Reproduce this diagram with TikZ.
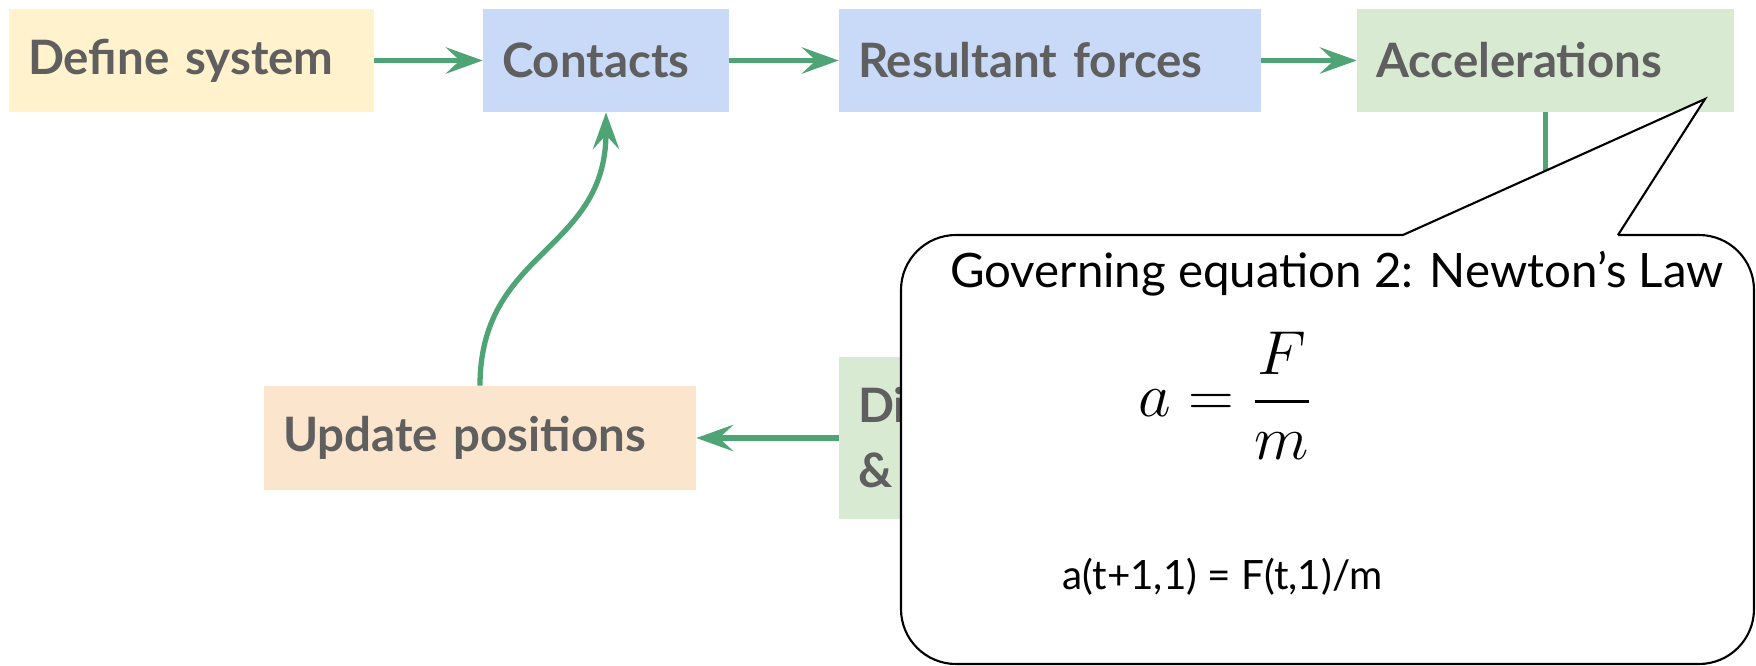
\documentclass[tikz,border=0pt]{standalone}
\usepackage{amsmath}
\usepackage{graphicx}
\usepackage{fontspec}
\setmainfont{Lato}
\usetikzlibrary{arrows.meta}
\definecolor{flowgreen}{RGB}{78,164,116}
\definecolor{labelgrey}{RGB}{95,95,95}
\definecolor{sysyellow}{RGB}{255,242,204}
\definecolor{stepblue}{RGB}{201,218,248}
\definecolor{stepgreen}{RGB}{217,234,211}
\definecolor{steporange}{RGB}{252,229,205}

\begin{document}
\begin{tikzpicture}[x=0.02cm, y=-0.02cm,
 box/.style={inner xsep=0.38cm, inner ysep=0pt, minimum height=2.06cm, text width=#1, align=left, font=\fontsize{27}{37}\selectfont\bfseries, text=labelgrey},
 flow/.style={draw=flowgreen, line width=3pt, -{Stealth[length=21pt, width=15pt, inset=8pt]}},
 callout/.style={draw=black, line width=1.2pt, fill=white},
 note/.style={inner sep=0pt, text=black}]
 \useasboundingbox (0,0) rectangle (1756,666);
 \node[box=6.54cm, fill=sysyellow] (def) at (191.5,60.5){Define system};
 \node[box=4.16cm, fill=stepblue] (cont) at (606,60.5){Contacts};
 \node[box=7.68cm, fill=stepblue] (res) at (1050,60.5){Resultant forces};
 \node[box=6.78cm, fill=stepgreen] (acc) at (1545.5,60.5){Accelerations};
 \node[box=7.64cm, fill=stepgreen, minimum height=3.24cm] (disp) at (1049,438){Di\\\&};
 \node[box=7.88cm, fill=steporange, minimum height=2.08cm] (upd) at (480,438){Update positions};
 \draw[flow] (def) -- (cont);
 \draw[flow] (cont) -- (res);
 \draw[flow] (res) -- (acc);
 \draw[flow] (acc.south) |- (disp.east);
 \draw[flow] (disp) -- (upd);
 \draw[flow] (upd.north) .. controls +(0,-136) and +(0,140) .. (cont.south);
 \draw[callout, rounded corners=1.1cm] (901,235) rectangle (1754,664);
 \fill[white] (1403,235) -- (1705,99) -- (1618,235) -- (1618,238) -- (1403,238) -- cycle;
 \draw[callout, fill=none] (1403,235) -- (1705,99) -- (1618,235);
 \node[note, font=\fontsize{27}{32}\selectfont] (title) at (1337,274){Governing equation 2: Newton’s Law};
 \node[note, font=\fontsize{24.88}{30}\selectfont] (law) at (1225,396){\scalebox{1.45}[1.42]{$a = \dfrac{F}{m}$}};
 \node[note, font=\fontsize{23}{28}\selectfont, anchor=west] (disc) at (1062,577){a(t+1,1) = F(t,1)/m};
\end{tikzpicture}
\end{document}
